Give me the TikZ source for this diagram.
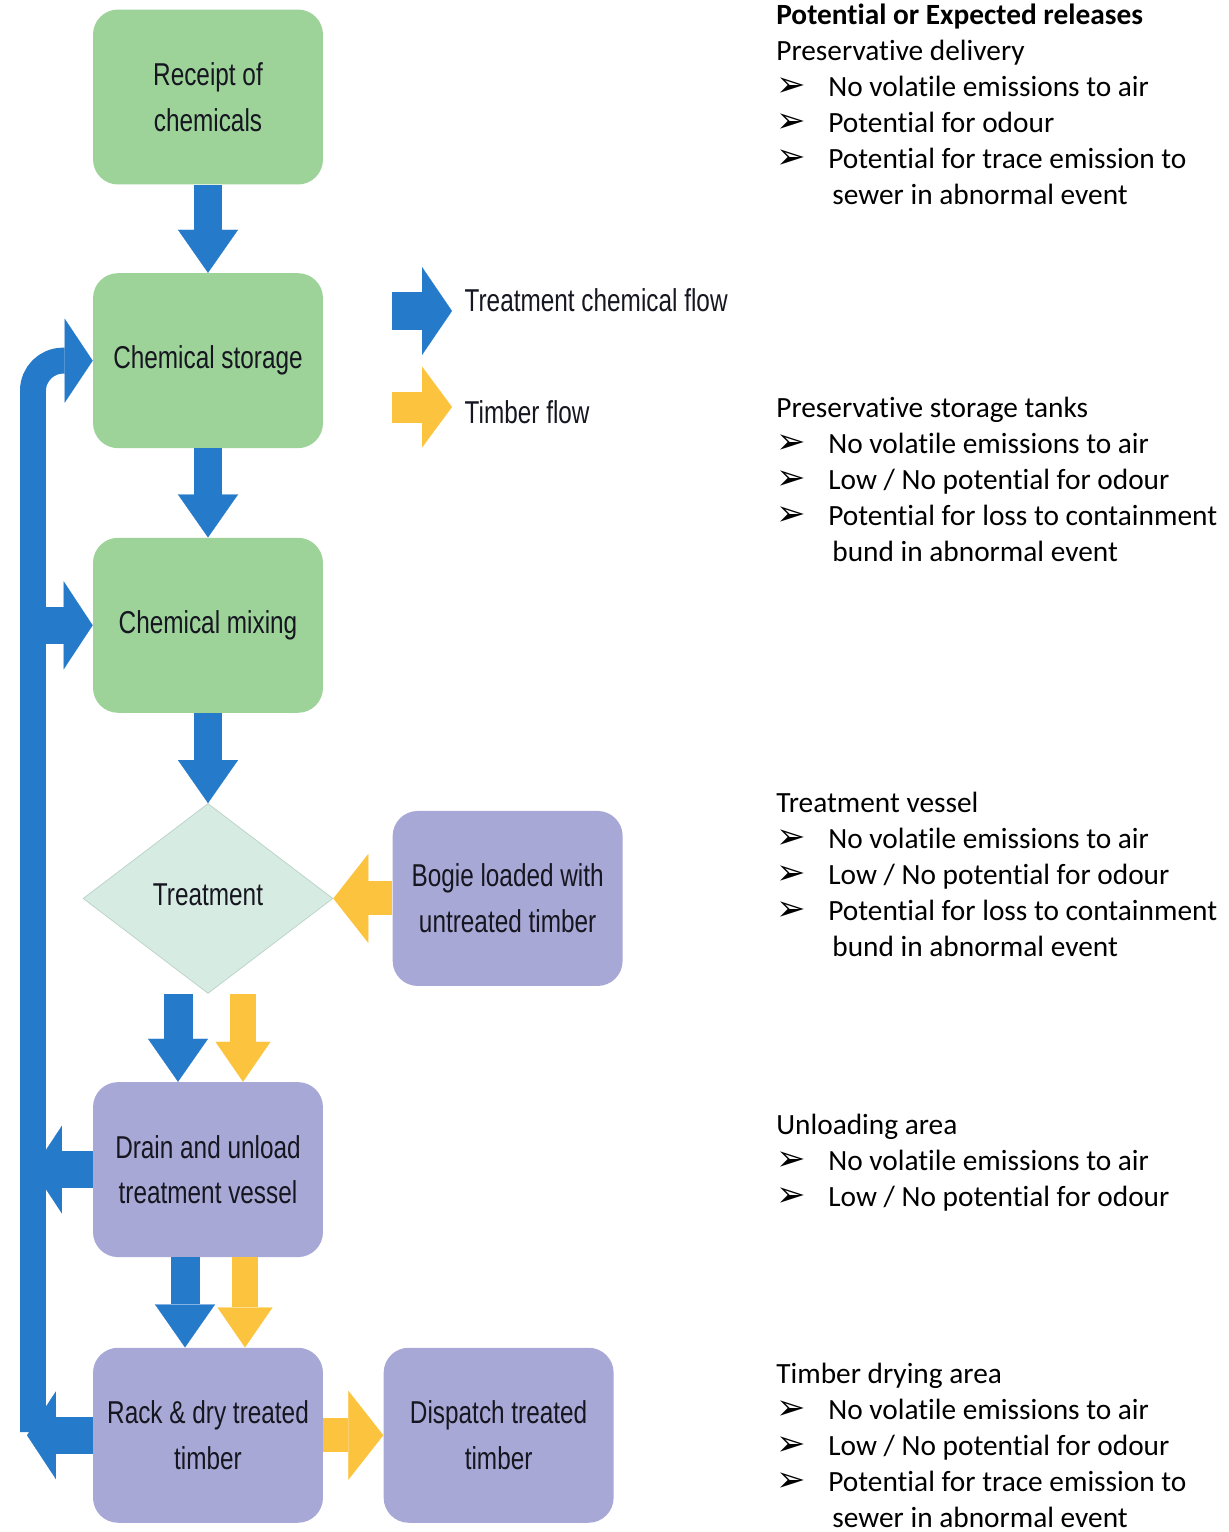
\documentclass[tikz,border=0pt]{standalone}
\usepackage{fontspec}
\setmainfont{Carlito}[Ligatures=CommonOff]
\newfontfamily\boxfont[FakeStretch=0.77]{Liberation Sans}
\newfontfamily\arrowfont{DejaVu Sans}
\usetikzlibrary{arrows.meta,shapes.geometric,positioning}
\definecolor{stepgreen}{RGB}{157,211,153}
\definecolor{steppurple}{RGB}{168,168,214}
\definecolor{decfill}{RGB}{214,235,225}
\definecolor{decline}{RGB}{185,210,200}
\definecolor{chemblue}{RGB}{38,122,202}
\definecolor{timberyellow}{RGB}{252,196,62}
\definecolor{inktext}{RGB}{22,22,32}
\newcommand{\rel}[1]{\makebox[29.6pt][l]{\arrowfont\fontsize{20}{20}\selectfont\char"27A2}#1}
\newcommand{\relcont}[1]{\hspace*{31.9pt}#1}

\begin{document}
\begin{tikzpicture}[x=0.02cm, y=-0.02cm,
      stepbox/.style={rounded corners=0.5cm, minimum width=4.6cm,
                      minimum height=3.5cm, align=center, inner sep=2pt,
                      font=\boxfont\fontsize{18}{26}\selectfont, text=inktext},
      decision/.style={diamond, draw=decline, fill=decfill, aspect=1.3,
                       minimum width=5cm, minimum height=3.8cm, inner sep=0pt,
                       font=\boxfont\fontsize{18}{26}\selectfont, text=inktext},
      keytext/.style={anchor=west, inner sep=7pt,
                      font=\boxfont\fontsize{18}{26}\selectfont, text=inktext},
      notes/.style={anchor=north west, inner sep=0pt, align=left,
                    font=\fontsize{16.7}{20.45}\selectfont},
      chemdown/.style={draw=chemblue, line width=0.58cm,
                       -{Triangle[length=0.86cm, width=1.2cm, line width=0.1pt]}},
      timbdown/.style={draw=timberyellow, line width=0.52cm,
                       -{Triangle[length=0.8cm, width=1.1cm, line width=0.1pt]}},
      chemside/.style={draw=chemblue, line width=0.74cm,
                       -{Triangle[length=0.58cm, width=1.76cm, line width=0.1pt]}},
      timbside/.style={draw=timberyellow, line width=0.68cm,
                       -{Triangle[length=0.7cm, width=1.78cm, line width=0.1pt]}},
      loopbar/.style={draw=chemblue, line width=0.52cm, rounded corners=0.6cm,
                      -{Triangle[length=0.56cm, width=1.68cm, line width=0.1pt]}}
    ]
    \useasboundingbox (0,0) rectangle (1229,1532);

    % process column
    \node[stepbox, fill=stepgreen] (recv) at (208,97) {Receipt of\\chemicals};
    \node[stepbox, fill=stepgreen, below=1.76cm of recv] (store) {Chemical storage};
    \node[stepbox, fill=stepgreen, below=1.78cm of store] (mix) {Chemical mixing};
    \node[decision, below=1.8cm of mix] (treat) {\raisebox{4pt}{Treatment}};
    \node[stepbox, fill=steppurple, right=1.18cm of treat] (bogie)
      {Bogie loaded with\\untreated timber};
    \node[stepbox, fill=steppurple, below=1.76cm of treat] (drain)
      {Drain and unload\\treatment vessel};
    \node[stepbox, fill=steppurple, below=1.8cm of drain] (rack)
      {Rack \& dry treated\\timber};
    \node[stepbox, fill=steppurple, right=1.2cm of rack] (dispatch)
      {Dispatch treated\\timber};

    % return loop
    \coordinate (loopfoot) at (33,1432);
    \coordinate (loopin) at (27,1432);
    \draw[loopbar] (loopfoot) |- (store.west);
    \draw[chemside] (mix.west -| loopfoot) -- (mix.west);
    \draw[chemside] (drain.west) -- (drain.west -| loopfoot);
    \draw[chemside] (rack.west) -- (rack.west -| loopin);

    % flows
    \draw[chemdown] (recv) -- (store);
    \draw[chemdown] (store) -- (mix);
    \draw[chemdown] (mix) -- (treat);
    \draw[timbside] (bogie) -- (treat);
    \draw[chemdown] ([xshift=-0.6cm]treat.south) -- ([xshift=-0.6cm]drain.north);
    \draw[timbdown] ([xshift=0.7cm]treat.south) -- ([xshift=0.7cm]drain.north);
    \draw[chemdown] ([xshift=-0.46cm]drain.south) -- ([xshift=-0.46cm]rack.north);
    \draw[timbdown] ([xshift=0.74cm]drain.south) -- ([xshift=0.74cm]rack.north);
    \draw[timbside] (rack) -- (dispatch);

    % key
    \node[keytext] (chemlbl) at (452,300) {Treatment chemical flow};
    \node[keytext] (timblbl) at (452,412) {Timber flow};
    \coordinate (chemkey) at (392,311);
    \coordinate (timbkey) at (392,407);
    \draw[draw=chemblue, line width=0.76cm,
          -{Triangle[length=0.6cm, width=1.76cm, line width=0.1pt]}]
      (chemkey) -- (chemkey -| chemlbl.west);
    \draw[draw=timberyellow, line width=0.62cm,
          -{Triangle[length=0.6cm, width=1.62cm, line width=0.1pt]}]
      (timbkey) -- (timbkey -| timblbl.west);

    % releases
    \node[notes] (relhead) at (776,4)
      {\textbf{Potential or Expected releases}\\
       Preservative delivery\\
       \rel{No volatile emissions to air}\\
       \rel{Potential for odour}\\
       \rel{Potential for trace emission to}\\
       \relcont{sewer in abnormal event}};
    \node[notes] (reltanks) at (776,397)
      {Preservative storage tanks\\
       \rel{No volatile emissions to air}\\
       \rel{Low / No potential for odour}\\
       \rel{Potential for loss to containment}\\
       \relcont{bund in abnormal event}};
    \node[notes] (relvessel) at (776,792)
      {Treatment vessel\\
       \rel{No volatile emissions to air}\\
       \rel{Low / No potential for odour}\\
       \rel{Potential for loss to containment}\\
       \relcont{bund in abnormal event}};
    \node[notes] (relunload) at (776,1114)
      {Unloading area\\
       \rel{No volatile emissions to air}\\
       \rel{Low / No potential for odour}};
    \node[notes] (reldry) at (776,1363)
      {Timber drying area\\
       \rel{No volatile emissions to air}\\
       \rel{Low / No potential for odour}\\
       \rel{Potential for trace emission to}\\
       \relcont{sewer in abnormal event}};
  \end{tikzpicture}
\end{document}
